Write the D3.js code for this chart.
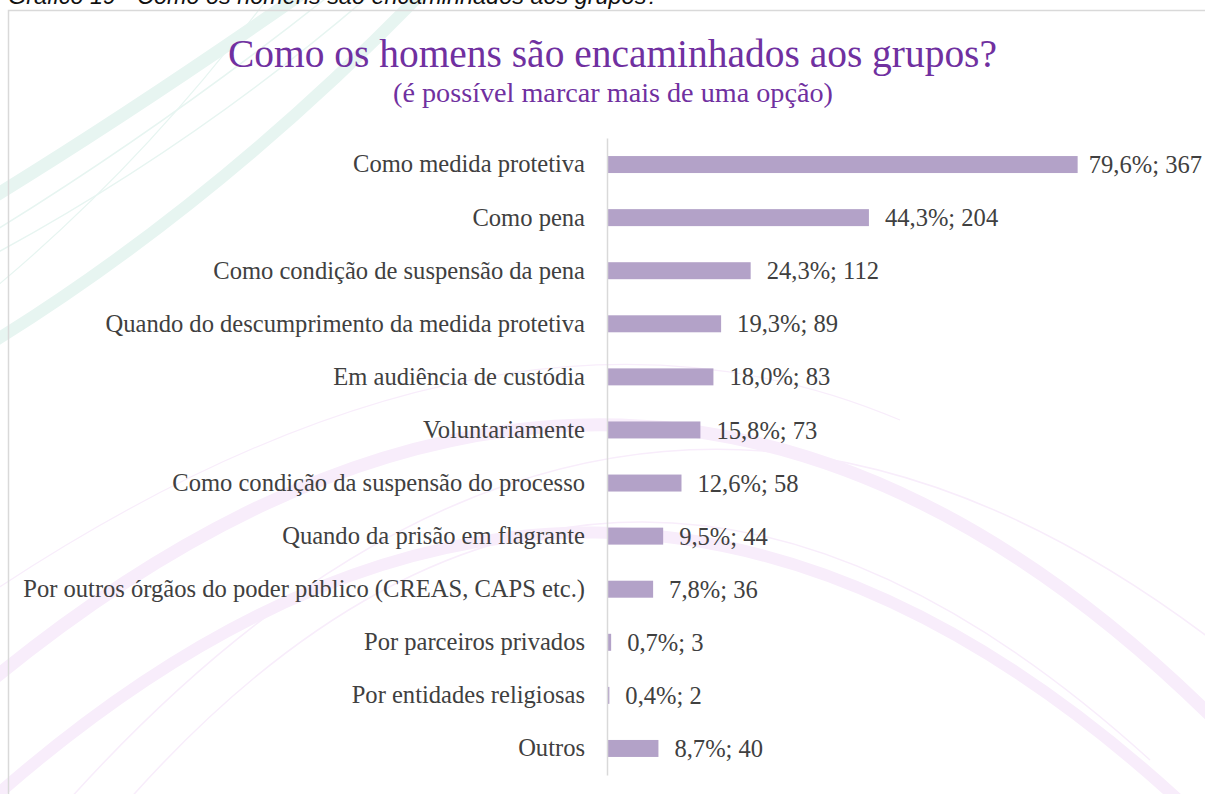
<!DOCTYPE html>
<html>
<head>
<meta charset="utf-8">
<script src="https://cdn.jsdelivr.net/npm/d3@7"></script>
<style>
  html, body { margin: 0; padding: 0; background: #ffffff; }
  svg { display: block; }
</style>
</head>
<body>
<svg id="chart" width="1205" height="794"></svg>
<script>
// ---------------- DATA ----------------
const categories = [
  "Como medida protetiva",
  "Como pena",
  "Como condição de suspensão da pena",
  "Quando do descumprimento da medida protetiva",
  "Em audiência de custódia",
  "Voluntariamente",
  "Como condição da suspensão do processo",
  "Quando da prisão em flagrante",
  "Por outros órgãos do poder público (CREAS, CAPS etc.)",
  "Por parceiros privados",
  "Por entidades religiosas",
  "Outros"
];
const percents = [79.6, 44.3, 24.3, 19.3, 18.0, 15.8, 12.6, 9.5, 7.8, 0.7, 0.4, 8.7];
const counts   = [367, 204, 112, 89, 83, 73, 58, 44, 36, 3, 2, 40];

const captionText = "Gráfico 19 - Como os homens são encaminhados aos grupos?";
const titleText = "Como os homens são encaminhados aos grupos?";
const subtitleText = "(é possível marcar mais de uma opção)";

// ---------------- LAYOUT ----------------
const W = 1205, H = 794;
const svg = d3.select("#chart");
const serif = "'Liberation Serif', 'DejaVu Serif', serif";

function fitWidth(sel, target, base) {
  sel.attr("font-size", base);
  const w = sel.node().getComputedTextLength();
  sel.attr("font-size", base * target / w);
  return base * target / w;
}

svg.append("rect").attr("width", W).attr("height", H).attr("fill", "#ffffff");

// decorative background arcs
const deco = svg.append("g").attr("fill", "none").attr("stroke-linecap", "butt");
const teal = "#e7f5f1", pink = "#f8edfb";
[
  {d: "M-20,205 Q120,120 300,-5", w: 13},
  {d: "M-20,240 Q160,130 330,-5", w: 1.5},
  {d: "M-20,262 Q190,150 370,-5", w: 1.5},
  {d: "M-20,350 Q210,210 420,-5", w: 12},
  {d: "M-20,300 Q140,170 270,-5", w: 1.2}
].forEach(a => deco.append("path").attr("d", a.d).attr("stroke", teal).attr("stroke-width", a.w));
[
  {d: "M-20,690 Q640,140 1225,730", w: 13},
  {d: "M-20,810 Q600,250 1200,820", w: 12},
  {d: "M60,810 Q620,180 1225,650", w: 1.5},
  {d: "M120,810 Q600,260 1150,760", w: 1.5},
  {d: "M-20,600 Q500,250 900,420", w: 1.2}
].forEach(a => deco.append("path").attr("d", a.d).attr("stroke", pink).attr("stroke-width", a.w));

// caption (cropped at the top edge, as in the source page)
const cap = svg.append("text")
  .attr("x", 8).attr("y", 4)
  .attr("font-family", "'Liberation Sans', Arial, sans-serif")
  .attr("font-style", "italic")
  .attr("fill", "#111111")
  .text(captionText);
fitWidth(cap, 652, 20);

// frame
svg.append("path")
  .attr("d", "M8.5," + H + " L8.5,10.5 L" + W + ",10.5")
  .attr("fill", "none").attr("stroke", "#d9d9d9").attr("stroke-width", 1.5);

// titles
const title = svg.append("text")
  .attr("x", 612.5).attr("y", 67)
  .attr("text-anchor", "middle")
  .attr("font-family", serif)
  .attr("fill", "#7030a0")
  .text(titleText);
fitWidth(title, 769, 40);

const subtitle = svg.append("text")
  .attr("x", 613).attr("y", 102)
  .attr("text-anchor", "middle")
  .attr("font-family", serif)
  .attr("fill", "#7030a0")
  .text(subtitleText);
fitWidth(subtitle, 440, 26);

// scales
const x = d3.scaleLinear().domain([0, 80]).range([607, 1080]);
const y = d3.scaleBand().domain(categories).range([138, 775])
  .paddingInner(0.68).paddingOuter(0.34);

const probe = svg.append("text").attr("font-family", serif)
  .text("Por outros órgãos do poder público (CREAS, CAPS etc.)");
const labelSize = fitWidth(probe, 562, 20);
probe.remove();

// bars
svg.append("g").selectAll("rect")
  .data(categories)
  .join("rect")
  .attr("x", x(0))
  .attr("y", d => y(d))
  .attr("width", (d, i) => x(percents[i]) - x(0))
  .attr("height", y.bandwidth())
  .attr("fill", "#b3a2c8");

// axis (vertical line, no ticks) with category labels
const yAxis = d3.axisLeft(y).tickSize(0).tickPadding(22);
const gAxis = svg.append("g").attr("transform", "translate(" + x(0) + ",0)").call(yAxis);
gAxis.select(".domain").attr("stroke", "#d9d9d9").attr("stroke-width", 1.5);
gAxis.selectAll("text")
  .attr("font-family", serif)
  .attr("font-size", labelSize)
  .attr("fill", "#404040");

// value labels
svg.append("g").selectAll("text")
  .data(categories)
  .join("text")
  .attr("y", d => y(d) + y.bandwidth() / 2)
  .attr("dy", "0.35em")
  .attr("font-family", serif)
  .attr("font-size", labelSize)
  .attr("fill", "#404040")
  .text((d, i) => d3.format(".1f")(percents[i]).replace(".", ",") + "%; " + counts[i])
  .attr("x", function(d, i) {
    const w = this.getComputedTextLength();
    const x0 = x(percents[i]) + 16;
    return Math.min(x0, W - 3 - w);
  });
</script>
</body>
</html>
